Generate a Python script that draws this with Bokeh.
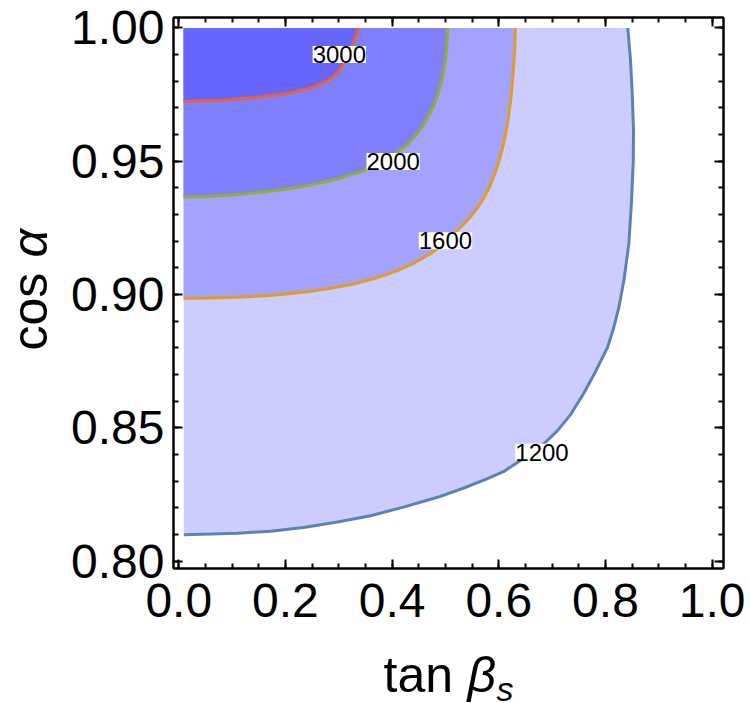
import math
from bokeh.plotting import figure
from bokeh.layouts import row, column
from bokeh.models import Range1d, FixedTicker, PrintfTickFormatter, LinearAxis, Label
from bokeh.core.properties import value
from bokeh.embed import file_html
from bokeh.resources import INLINE

# ---- data ----
levels = [1200, 1600, 2000, 3000]

x1200 = [0.0094, 0.0594, 0.1101, 0.1719, 0.2338, 0.2976, 0.3594, 0.4213, 0.4851, 0.5320,
         0.5788, 0.6088, 0.6407, 0.6632, 0.6838, 0.7101, 0.7345, 0.7588, 0.7813, 0.8039,
         0.8151, 0.8251, 0.8344, 0.8438, 0.8489, 0.8521, 0.8526, 0.8502, 0.8470, 0.8419]
y1200 = [0.8100, 0.8102, 0.8105, 0.8113, 0.8127, 0.8147, 0.8171, 0.8203, 0.8240, 0.8273,
         0.8310, 0.8336, 0.8378, 0.8408, 0.8439, 0.8490, 0.8550, 0.8628, 0.8711, 0.8802,
         0.8873, 0.8952, 0.9052, 0.9190, 0.9352, 0.9502, 0.9615, 0.9753, 0.9877, 1.0]

x1600 = [0.009, 0.06, 0.11, 0.17, 0.234, 0.28, 0.328, 0.37, 0.41, 0.44, 0.472, 0.495, 0.516,
         0.533, 0.547, 0.560, 0.572, 0.583, 0.593, 0.602, 0.610, 0.617, 0.623, 0.627, 0.630, 0.631]
y1600 = [0.8986, 0.8987, 0.8990, 0.8997, 0.9009, 0.9022, 0.9040, 0.9062, 0.9090, 0.9117,
         0.9153, 0.9188, 0.9228, 0.9262, 0.9292, 0.9325, 0.9362, 0.9405, 0.9455, 0.9510,
         0.9575, 0.9650, 0.9740, 0.9830, 0.9920, 1.0]

x2000 = [0.009, 0.06, 0.11, 0.16, 0.203, 0.25, 0.284, 0.32, 0.345, 0.37, 0.391, 0.41, 0.428,
         0.445, 0.46, 0.474, 0.485, 0.494, 0.500, 0.503, 0.504]
y2000 = [0.9365, 0.9368, 0.9375, 0.9385, 0.9396, 0.9412, 0.9427, 0.9447, 0.9463, 0.9484,
         0.9509, 0.9533, 0.9562, 0.9598, 0.9640, 0.9690, 0.9745, 0.9810, 0.9880, 0.9940, 1.0]

x3000 = [0.009, 0.078, 0.141, 0.203, 0.247, 0.278, 0.293, 0.305, 0.319, 0.328, 0.3375]
y3000 = [0.9724, 0.9728, 0.9738, 0.9753, 0.9774, 0.9800, 0.9822, 0.9850, 0.9902, 0.9946, 1.0]

label_x = [0.681, 0.500, 0.402, 0.301]
label_y = [0.8409, 0.9202, 0.9499, 0.9900]

x_ticks = [0.0, 0.2, 0.4, 0.6, 0.8, 1.0]
y_ticks = [0.80, 0.85, 0.90, 0.95, 1.00]

x_title = ["tan ", "β", "s"]
y_title = ["cos ", "α"]

# ---- style / layout ----
fill_colors = ["#CCCCFF", "#A3A3FF", "#8080FF", "#6666FF"]
line_colors = ["#5E81B5", "#E19C24", "#8FB032", "#EB6235"]
FONT = "Liberation Sans"

X0, X1 = -0.0099, 1.0213
Y0, Y1 = 0.7973, 1.0039
FL, FR, FT, FB = 173, 723, 17, 568   # frame edges in page pixels
LEFT_W = 56
MAIN_W = 750 - LEFT_W
MAIN_H = 650
BOT_H = 703 - MAIN_H
SHIFT = 0.35   # correction (in em) for where the text glyph puts its baseline

xr = Range1d(X0, X1)
yr_ = Range1d(Y0, Y1)


def px_x(px):
    return X0 + (px - FL) / (FR - FL) * (X1 - X0)


def px_y(py):
    return Y1 - (py - FT) / (FB - FT) * (Y1 - Y0)


p = figure(width=MAIN_W, height=MAIN_H, output_backend="svg", toolbar_location=None,
           x_range=xr, y_range=yr_, title=None,
           min_border_left=FL - LEFT_W, min_border_right=750 - FR, min_border_top=FT,
           min_border_bottom=MAIN_H - FB,
           x_axis_location=None, y_axis_location=None)
p.grid.visible = False
p.outline_line_color = "black"
p.outline_line_width = 2
p.background_fill_color = "white"
p.border_fill_color = "white"

curves = [(x1200, y1200), (x1600, y1600), (x2000, y2000), (x3000, y3000)]
for (xs, ys), fc in zip(curves, fill_colors):
    p.patch(xs + [xs[0]], ys + [1.0], fill_color=fc, line_color=None)
for (xs, ys), lc in zip(curves, line_colors):
    p.line(xs, ys, line_color=lc, line_width=3)

for lv, lx, ly in zip(levels, label_x, label_y):
    p.add_layout(Label(x=lx, y=ly, text=str(lv), text_align="center", text_baseline="middle",
                       text_font=FONT, text_font_size="24px", text_color="black",
                       background_fill_color="white"))

x_minor = [round(i * 0.05, 2) for i in range(-1, 22)]
y_minor = [round(0.79 + i * 0.01, 2) for i in range(0, 23)]


def style_axis(ax, ticks, minor, fmt, show_labels):
    ax.ticker = FixedTicker(ticks=ticks, minor_ticks=minor)
    ax.formatter = PrintfTickFormatter(format=fmt)
    ax.axis_line_color = "black"
    ax.axis_line_width = 2
    ax.major_tick_in = 9
    ax.major_tick_out = 0
    ax.minor_tick_in = 5
    ax.minor_tick_out = 0
    ax.major_tick_line_width = 2
    ax.minor_tick_line_width = 2
    ax.major_tick_line_color = "black"
    ax.minor_tick_line_color = "black"
    ax.major_label_text_font = FONT
    ax.major_label_text_color = "black"
    if show_labels:
        ax.major_label_text_font_size = "48px"
    else:
        ax.major_label_text_font_size = "0px"
        ax.major_label_text_alpha = 0
        ax.major_label_standoff = 0


xb = LinearAxis()
style_axis(xb, x_ticks, x_minor, "%.1f", True)
xb.major_label_standoff = 15
p.add_layout(xb, "below")
yl = LinearAxis()
style_axis(yl, y_ticks, y_minor, "%.2f", True)
yl.major_label_standoff = 9
p.add_layout(yl, "left")
xt = LinearAxis()
style_axis(xt, x_ticks, x_minor, "%.1f", False)
p.add_layout(xt, "above")
yr = LinearAxis()
style_axis(yr, y_ticks, y_minor, "%.2f", False)
p.add_layout(yr, "right")


def strip(w, h, x_range, y_range, bl, br, bt, bb):
    f = figure(width=w, height=h, output_backend="svg", toolbar_location=None, title=None,
               x_range=x_range, y_range=y_range,
               x_axis_location=None, y_axis_location=None,
               min_border_left=bl, min_border_right=br, min_border_top=bt, min_border_bottom=bb)
    f.grid.visible = False
    f.outline_line_color = None
    f.background_fill_color = "white"
    f.border_fill_color = "white"
    return f


# left strip ("cos α", rotated); vertical frame matches the main plot frame
lft = strip(LEFT_W, 703, Range1d(0, LEFT_W), yr_, 0, 0, FT, 703 - FB)
lx = 47 - SHIFT * 50
lft.text(x=[lx], y=[px_y(350)], text=[y_title[0]], angle=math.pi / 2,
         text_font=value(FONT), text_font_size=value("50px"), text_color="black",
         text_align="left", text_baseline="alphabetic")
lft.text(x=[lx], y=[px_y(257)], text=[y_title[1]], angle=math.pi / 2,
         text_font=value(FONT), text_font_size=value("50px"), text_font_style=value("italic"),
         text_color="black", text_align="left", text_baseline="alphabetic")

# bottom strip ("tan β_s"); horizontal frame matches the main plot frame
bot = strip(MAIN_W, BOT_H, xr, Range1d(0, BOT_H), FL - LEFT_W, 750 - FR, 0, 0)
base = BOT_H - (692 - MAIN_H)
bot.text(x=[px_x(383)], y=[base + SHIFT * 50], text=[x_title[0]],
         text_font=value(FONT), text_font_size=value("50px"), text_color="black",
         text_align="left", text_baseline="alphabetic")
bot.text(x=[px_x(467)], y=[base + SHIFT * 50], text=[x_title[1]],
         text_font=value(FONT), text_font_size=value("50px"), text_font_style=value("italic"),
         text_color="black", text_align="left", text_baseline="alphabetic")
bot.text(x=[px_x(496)], y=[base - 8 + SHIFT * 34], text=[x_title[2]],
         text_font=value(FONT), text_font_size=value("34px"), text_font_style=value("italic"),
         text_color="black", text_align="left", text_baseline="alphabetic")

layout = row(lft, column(p, bot))
open("out.html", "w").write(file_html(layout, INLINE))
